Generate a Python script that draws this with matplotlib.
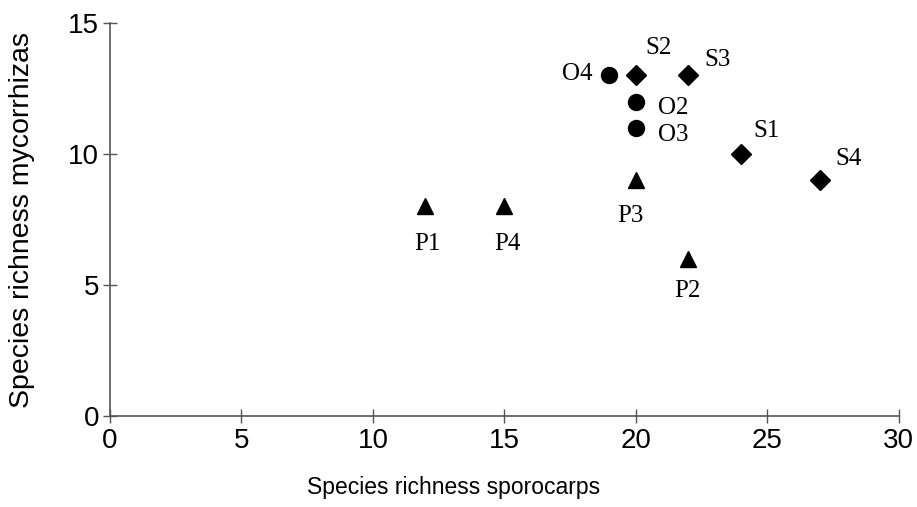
import matplotlib
matplotlib.use('Agg')
import matplotlib.pyplot as plt

# Sites: O = circles, S = diamonds, P = triangles
o_names = ['O4', 'O2', 'O3']
o_x = [19, 20, 20]
o_y = [13, 12, 11]

s_names = ['S2', 'S3', 'S1', 'S4']
s_x = [20, 22, 24, 27]
s_y = [13, 13, 10, 9]

p_names = ['P3', 'P2', 'P1', 'P4']
p_x = [20, 22, 12, 15]
p_y = [9, 6, 8, 8]

# label offsets in pixels
offsets = {
    'O4': (-32, 1), 'O2': (37, -6), 'O3': (37, -7),
    'S2': (23, 27), 'S3': (29, 15), 'S1': (26, 23), 'S4': (29, 21),
    'P3': (-5, -36), 'P2': (-1, -32), 'P1': (2, -38), 'P4': (3, -38),
}

fig = plt.figure(figsize=(9.17, 5.07), dpi=100)
ax = fig.add_axes([0.12, 0.1795, 0.860, 0.775])

ax.plot(o_x, o_y, 'o', color='black', markersize=11.5, linestyle='none')
ax.plot(s_x, s_y, 'D', color='black', markersize=10, linestyle='none')
ax.plot(p_x, p_y, '^', color='black', markersize=11, linestyle='none')

for names, xs, ys in [(o_names, o_x, o_y), (s_names, s_x, s_y), (p_names, p_x, p_y)]:
    for n, x, y in zip(names, xs, ys):
        dx, dy = offsets[n]
        ax.annotate(n, (x, y), xytext=(dx, dy), textcoords='offset pixels',
                    ha='center', va='center', fontsize=18,
                    family='Liberation Serif')

ax.set_xlim(0, 30)
ax.set_ylim(0, 15)
ax.set_xticks(range(0, 31, 5))
ax.set_yticks(range(0, 16, 5))

for side in ['top', 'right']:
    ax.spines[side].set_visible(False)
for side in ['left', 'bottom']:
    ax.spines[side].set_color('#555555')
    ax.spines[side].set_linewidth(1.2)

ax.tick_params(direction='inout', length=10, width=1, color='#555555',
               labelsize=20)
ax.tick_params(axis='x', pad=4)
ax.tick_params(axis='y', pad=3)
for lab in ax.get_xticklabels() + ax.get_yticklabels():
    lab.set_family('Liberation Sans')

ax.set_xlabel('Species richness sporocarps', fontsize=16.5, family='Liberation Sans')
ax.xaxis.set_label_coords(0.436, -0.152)
ax.set_ylabel('Species richness mycorrhizas', fontsize=20.5, family='Liberation Sans')
ax.yaxis.set_label_coords(-0.095, 0.5)

fig.savefig('out.png', dpi=100)
